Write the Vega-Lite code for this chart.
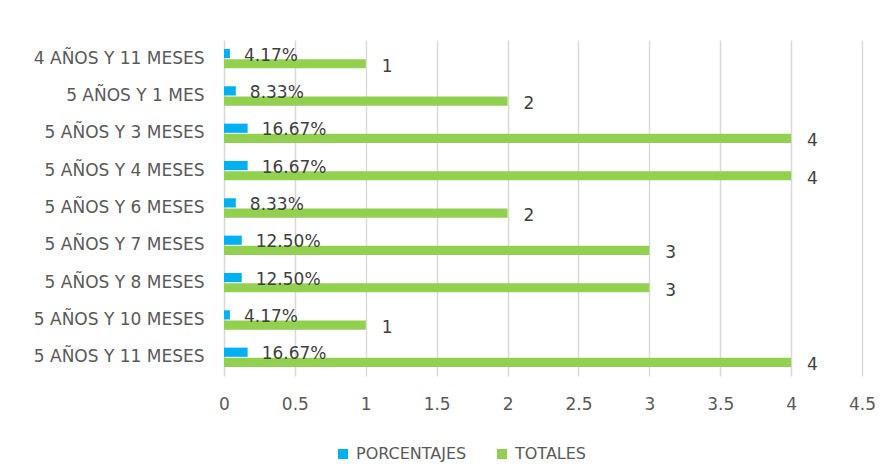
{
  "$schema": "https://vega.github.io/schema/vega-lite/v6.json",
  "width": 638,
  "height": 336,
  "autosize": {"type": "none"},
  "padding": {"left": 224, "top": 40, "right": 19, "bottom": 94},
  "background": "white",
  "config": {
    "font": "DejaVu Sans",
    "view": {"stroke": null}
  },
  "data": {
    "values": [
      {"cat": "4 AÑOS Y 11 MESES", "serie": "PORCENTAJES", "value": 0.0417, "label": "4.17%"},
      {"cat": "4 AÑOS Y 11 MESES", "serie": "TOTALES", "value": 1, "label": "1"},
      {"cat": "5 AÑOS Y 1 MES", "serie": "PORCENTAJES", "value": 0.0833, "label": "8.33%"},
      {"cat": "5 AÑOS Y 1 MES", "serie": "TOTALES", "value": 2, "label": "2"},
      {"cat": "5 AÑOS Y 3 MESES", "serie": "PORCENTAJES", "value": 0.1667, "label": "16.67%"},
      {"cat": "5 AÑOS Y 3 MESES", "serie": "TOTALES", "value": 4, "label": "4"},
      {"cat": "5 AÑOS Y 4 MESES", "serie": "PORCENTAJES", "value": 0.1667, "label": "16.67%"},
      {"cat": "5 AÑOS Y 4 MESES", "serie": "TOTALES", "value": 4, "label": "4"},
      {"cat": "5 AÑOS Y 6 MESES", "serie": "PORCENTAJES", "value": 0.0833, "label": "8.33%"},
      {"cat": "5 AÑOS Y 6 MESES", "serie": "TOTALES", "value": 2, "label": "2"},
      {"cat": "5 AÑOS Y 7 MESES", "serie": "PORCENTAJES", "value": 0.125, "label": "12.50%"},
      {"cat": "5 AÑOS Y 7 MESES", "serie": "TOTALES", "value": 3, "label": "3"},
      {"cat": "5 AÑOS Y 8 MESES", "serie": "PORCENTAJES", "value": 0.125, "label": "12.50%"},
      {"cat": "5 AÑOS Y 8 MESES", "serie": "TOTALES", "value": 3, "label": "3"},
      {"cat": "5 AÑOS Y 10  MESES", "serie": "PORCENTAJES", "value": 0.0417, "label": "4.17%"},
      {"cat": "5 AÑOS Y 10  MESES", "serie": "TOTALES", "value": 1, "label": "1"},
      {"cat": "5 AÑOS Y 11 MESES", "serie": "PORCENTAJES", "value": 0.1667, "label": "16.67%"},
      {"cat": "5 AÑOS Y 11 MESES", "serie": "TOTALES", "value": 4, "label": "4"}
    ]
  },
  "encoding": {
    "y": {
      "field": "cat",
      "type": "nominal",
      "sort": null,
      "scale": {"paddingInner": 0.48, "paddingOuter": 0.24},
      "axis": {
        "title": null,
        "domain": false,
        "ticks": false,
        "labelPadding": 20,
        "labelFontSize": 17,
        "labelColor": "#595959",
        "labelLimit": 300
      }
    },
    "yOffset": {
      "field": "serie",
      "type": "nominal",
      "sort": ["PORCENTAJES", "TOTALES"],
      "scale": {"paddingInner": 0.1}
    },
    "x": {
      "field": "value",
      "type": "quantitative",
      "scale": {"domain": [0, 4.5], "nice": false},
      "axis": {
        "title": null,
        "values": [0, 0.5, 1, 1.5, 2, 2.5, 3, 3.5, 4, 4.5],
        "format": "~g",
        "domain": false,
        "ticks": false,
        "grid": true,
        "gridColor": "#d9d9d9",
        "gridWidth": 1.5,
        "labelPadding": 20,
        "labelFontSize": 17,
        "labelColor": "#595959",
        "labelFlush": false
      }
    }
  },
  "layer": [
    {
      "mark": {"type": "bar"},
      "encoding": {
        "color": {
          "field": "serie",
          "type": "nominal",
          "scale": {"domain": ["PORCENTAJES", "TOTALES"], "range": ["#00B0F0", "#92D050"]},
          "legend": {
            "title": null,
            "orient": "none",
            "direction": "horizontal",
            "legendX": 111,
            "legendY": 406,
            "symbolType": "square",
            "symbolSize": 100,
            "symbolStrokeWidth": 0,
            "labelFontSize": 16,
            "labelColor": "#595959",
            "labelOffset": 5,
            "columnPadding": 27
          }
        }
      }
    },
    {
      "transform": [{"filter": "datum.serie === 'PORCENTAJES'"}],
      "mark": {"type": "text", "align": "left", "baseline": "middle", "dx": 14, "dy": 2, "fontSize": 17, "color": "#404040"},
      "encoding": {"text": {"field": "label"}}
    },
    {
      "transform": [{"filter": "datum.serie === 'TOTALES'"}],
      "mark": {"type": "text", "align": "left", "baseline": "middle", "dx": 16, "dy": 3, "fontSize": 17, "color": "#404040"},
      "encoding": {"text": {"field": "label"}}
    }
  ]
}
